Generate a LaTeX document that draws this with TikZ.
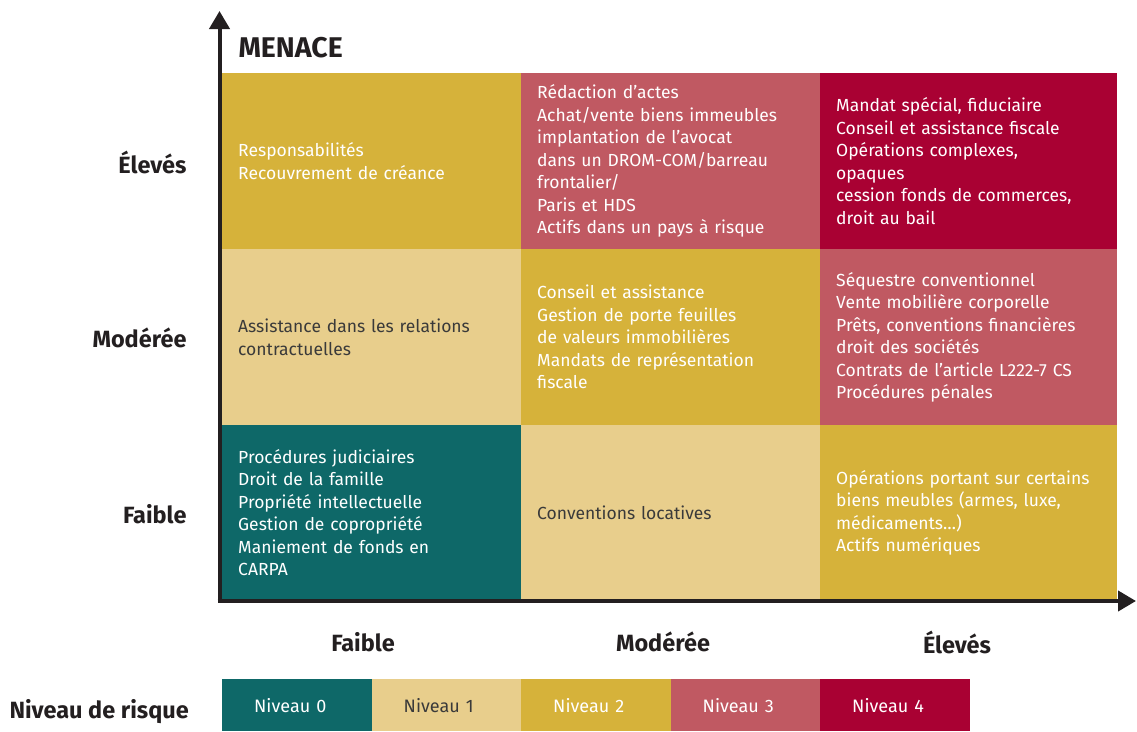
\documentclass[tikz,border=0pt]{standalone}
\usepackage{fontspec}
\setmainfont{Fira Sans}
\usetikzlibrary{arrows.meta}
\definecolor{lvA}{HTML}{0E6868}
\definecolor{lvB}{HTML}{E8CE8C}
\definecolor{lvC}{HTML}{D6B23A}
\definecolor{lvD}{HTML}{C05962}
\definecolor{lvE}{HTML}{A90133}
\definecolor{ink}{HTML}{231F20}
\definecolor{darktxt}{HTML}{3A3A3A}
\begin{document}
\begin{tikzpicture}[x=1pt,y=-1pt,
  cell/.style={draw=none, anchor=north west, minimum width=299pt, minimum height=176pt,
    inner xsep=16pt, inner ysep=0pt, text width=267pt, align=left, text=white,
    font=\fontsize{17.5}{22.5}\selectfont},
  axlab/.style={font=\bfseries\fontsize{23.5}{26}\selectfont, text=ink},
  legbox/.style={draw=none, anchor=north west, minimum width=149.5pt, minimum height=52pt,
    inner xsep=32pt, inner ysep=0pt, text width=85.5pt, align=left, text=white,
    font=\fontsize{18}{20}\selectfont},
  axis/.style={line width=4pt, draw=ink, -{Triangle[length=18pt,width=20pt]}}
]
\useasboundingbox (0,0) rectangle (1137,731);
% grid cells
\node[cell, fill=lvC, text=white] (c11) at (222,73) {Responsabilités\\Recouvrement de créance};
\node[cell, fill=lvD] (c12) at (521,73) {Rédaction d’actes\\Achat/vente biens immeubles\\implantation de l’avocat\\dans un DROM-COM/barreau\\frontalier/\\Paris et HDS\\Actifs dans un pays à risque};
\node[cell, fill=lvE, minimum width=297pt, text width=265pt] (c13) at (820,73) {Mandat spécial, fiduciaire\\Conseil et assistance fiscale\\Opérations complexes,\\opaques\\cession fonds de commerces,\\droit au bail};
\node[cell, fill=lvB, text=darktxt] (c21) at (222,249) {Assistance dans les relations\\contractuelles};
\node[cell, fill=lvC] (c22) at (521,249) {Conseil et assistance\\Gestion de porte feuilles\\de valeurs immobilières\\Mandats de représentation\\fiscale};
\node[cell, fill=lvD, minimum width=297pt, text width=265pt] (c23) at (820,249) {Séquestre conventionnel\\Vente mobilière corporelle\\Prêts, conventions financières\\droit des sociétés\\Contrats de l’article L222-7 CS\\Procédures pénales};
\node[cell, fill=lvA, minimum height=175pt] (c31) at (222,425) {Procédures judiciaires\\Droit de la famille\\Propriété intellectuelle\\Gestion de copropriété\\Maniement de fonds en\\CARPA};
\node[cell, fill=lvB, text=darktxt, minimum height=175pt] (c32) at (521,425) {Conventions locatives};
\node[cell, fill=lvC, minimum width=297pt, text width=265pt, minimum height=175pt] (c33) at (820,425) {Opérations portant sur certains\\biens meubles (armes, luxe,\\médicaments…)\\Actifs numériques};
% axes
\coordinate (orig) at (219.5,601);
\coordinate (ytip) at (219.5,11);
\coordinate (xtip) at (1136,601);
\coordinate (xstart) at (217.5,601);
\draw[axis] (orig) -- (ytip);
\draw[axis] (xstart) -- (xtip);
% axis labels
\node[axlab, anchor=west, font=\bfseries\fontsize{28.5}{30}\selectfont] (menace) at (235,48) {MENACE};
\node[axlab, anchor=east] (r1) at (190,162) {Élevés};
\node[axlab, anchor=east] (r2) at (190,338) {Modérée};
\node[axlab, anchor=east] (r3) at (190,514) {Faible};
\node[axlab] (k1) at (363,642) {Faible};
\node[axlab] (k2) at (663,642) {Modérée};
\node[axlab] (k3) at (957,642) {Élevés};
% legend
\node[axlab, anchor=west] (nr) at (6,712) {Niveau de risque};
\node[legbox, fill=lvA] (l0) at (222,679) {\raisebox{-4pt}{Niveau 0}};
\node[legbox, fill=lvB, text=darktxt] (l1) at (371.5,679) {\raisebox{-4pt}{Niveau 1}};
\node[legbox, fill=lvC] (l2) at (521,679) {\raisebox{-4pt}{Niveau 2}};
\node[legbox, fill=lvD] (l3) at (670.5,679) {\raisebox{-4pt}{Niveau 3}};
\node[legbox, fill=lvE] (l4) at (820,679) {\raisebox{-4pt}{Niveau 4}};
\end{tikzpicture}
\end{document}
